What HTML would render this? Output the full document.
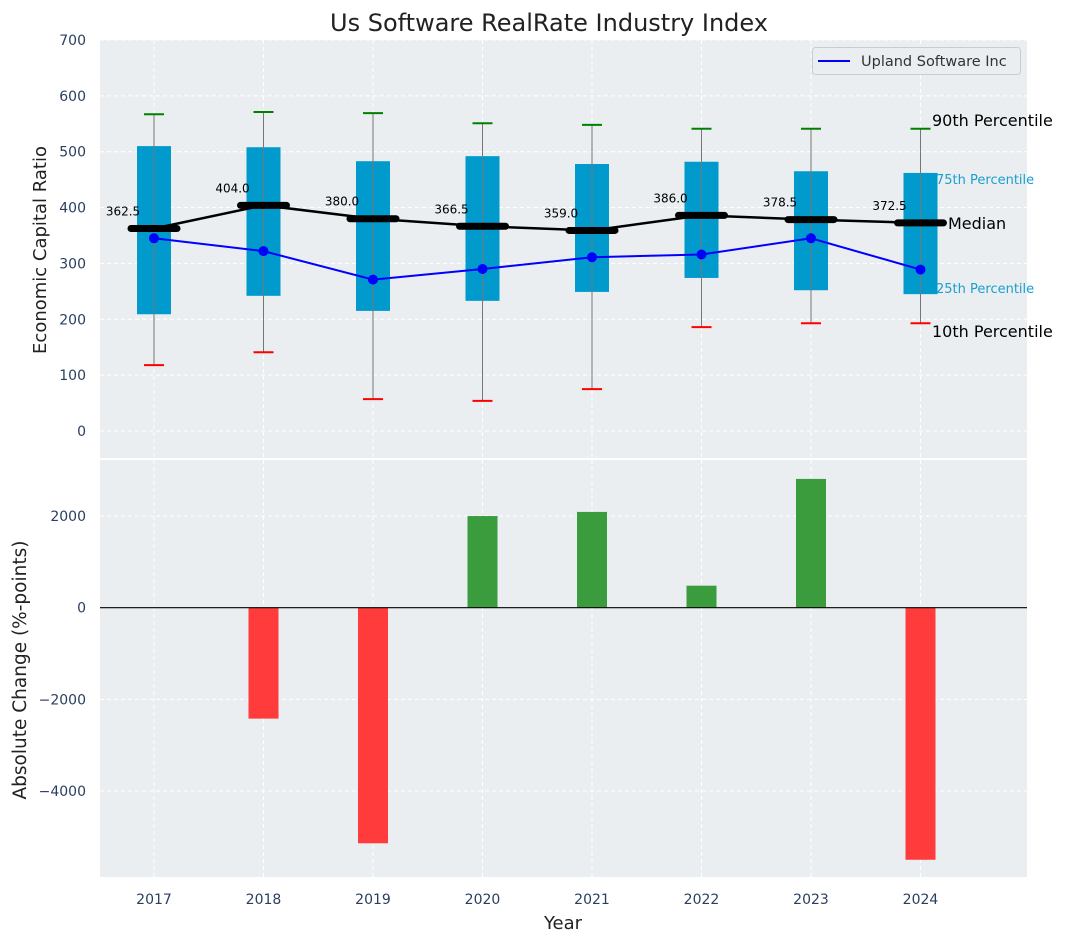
<!DOCTYPE html>
<html><head><meta charset="utf-8"><style>
html,body{margin:0;padding:0;background:#fff;}
svg{display:block;font-family:"DejaVu Sans","Liberation Sans",sans-serif;}
</style></head><body>
<svg id="chart" width="1067" height="942" viewBox="0 0 1067 942" xmlns="http://www.w3.org/2000/svg">
<text x="549" y="31" text-anchor="middle" font-size="24" fill="#222">Us Software RealRate Industry Index</text>
<g id="topg"></g><g id="botg"></g>
</svg>
<script>
const years=["2017","2018","2019","2020","2021","2022","2023","2024"];
const p10=[118,141,57,54,75,186,193,193];
const q1=[209,242,215,233,249,274,252,245];
const medians=[362.5,404.0,380.0,366.5,359.0,386.0,378.5,372.5];
const q3=[510,508,483,492,478,482,465,462];
const p90=[567,571,569,551,548,541,541,541];
const upland=[345,322,271,290,311,316,345,289];
const changes=[0,-2420,-5140,2000,2090,480,2810,-5500];
const topTicks=[0,100,200,300,400,500,600,700];
const botTicks=[-4000,-2000,0,2000];

const NS="http://www.w3.org/2000/svg";
const L=100,R=1027;
const x=i=>154+i*109.5;
const yT=v=>431-v*0.5586;
const yB=v=>607.7-v*0.04583;
function el(p,t,a){const e=document.createElementNS(NS,t);for(const k in a)e.setAttribute(k,a[k]);p.appendChild(e);return e;}
const gTop=document.getElementById('topg'),gBot=document.getElementById('botg');

let bg=el(gTop,'rect',{x:L,y:40,width:R-L,height:418,fill:'#eaeef0'});


let bg2=el(gBot,'rect',{x:L,y:460,width:R-L,height:417,fill:'#eaeef0'});



topTicks.forEach(t=>{
  el(gTop,'line',{x1:L,x2:R,y1:yT(t),y2:yT(t),stroke:'#fff','stroke-dasharray':'4,3','stroke-width':1});
  const tx=el(gTop,'text',{x:L-14,y:yT(t)+5,'text-anchor':'end','font-size':14,fill:'#2a3f5f'});
  tx.textContent=t;
  
  
});
botTicks.forEach(t=>{
  el(gBot,'line',{x1:L,x2:R,y1:yB(t),y2:yB(t),stroke:'#fff','stroke-dasharray':'4,3','stroke-width':1});
  const tx=el(gBot,'text',{x:L-14,y:yB(t)+5,'text-anchor':'end','font-size':14,fill:'#2a3f5f'});
  tx.textContent=t<0?'\u2212'+(-t):t;
  
  
});
years.forEach((yr,i)=>{
  el(gTop,'line',{x1:x(i),x2:x(i),y1:40,y2:458,stroke:'#fff','stroke-dasharray':'4,3'});
  el(gBot,'line',{x1:x(i),x2:x(i),y1:460,y2:877,stroke:'#fff','stroke-dasharray':'4,3'});
  const tx=el(gBot,'text',{x:x(i),y:904,'text-anchor':'middle','font-size':14,fill:'#2a3f5f'});
  tx.textContent=yr;
  
  
});

years.forEach((yr,i)=>{
  const g=el(gTop,'g',{});
  
  
  el(g,'rect',{x:x(i)-17,y:yT(q3[i]),width:34,height:yT(q1[i])-yT(q3[i]),fill:'#009acd'});
  el(g,'line',{x1:x(i),x2:x(i),y1:yT(p90[i]),y2:yT(p10[i]),stroke:'#777','stroke-width':1});
  el(g,'line',{x1:x(i)-10,x2:x(i)+10,y1:yT(p90[i]),y2:yT(p90[i]),stroke:'green','stroke-width':2});
  el(g,'line',{x1:x(i)-10,x2:x(i)+10,y1:yT(p10[i]),y2:yT(p10[i]),stroke:'red','stroke-width':2});
});
let mp=medians.map((m,i)=>x(i)+','+yT(m)).join(' ');
let ml=el(gTop,'polyline',{points:mp,fill:'none',stroke:'#000','stroke-width':2.5});


medians.forEach((m,i)=>{
  const s=el(gTop,'line',{x1:x(i)-23,x2:x(i)+23,y1:yT(m),y2:yT(m),stroke:'#000','stroke-width':7,'stroke-linecap':'round'});
  
  
  const t=el(gTop,'text',{x:x(i)-31,y:yT(m)-13,'text-anchor':'middle','font-size':12,fill:'#000'});
  t.textContent=m.toFixed(1);
  
  
});
let up=el(gTop,'polyline',{points:upland.map((v,i)=>x(i)+','+yT(v)).join(' '),fill:'none',stroke:'#0000ff','stroke-width':2});


upland.forEach((v,i)=>{
  const c=el(gTop,'circle',{cx:x(i),cy:yT(v),r:5,fill:'#0000ff'});
  
  
});
const n=years.length-1;
[[p90[n],'90th Percentile',16,'#000',932,-3],[q3[n],'75th Percentile',13,'#1a9fd0',936,11],[medians[n],'Median',16,'#000',948,6],[q1[n],'25th Percentile',13,'#1a9fd0',936,-1],[p10[n],'10th Percentile',16,'#000',932,14]].forEach(a=>{
  const t=el(gTop,'text',{x:a[4],y:yT(a[0])+a[5],'font-size':a[2],fill:a[3]});
  t.textContent=a[1];
  
  
});
const lg=el(gTop,'g',{});


el(lg,'rect',{x:812.5,y:47.5,width:208,height:27,rx:3,fill:'#eaeef0',stroke:'#ccc'});
el(lg,'line',{x1:818,x2:850,y1:61,y2:61,stroke:'#0000ff','stroke-width':2});
const lt=el(lg,'text',{x:861,y:66,'font-size':14.5,fill:'#333'});lt.textContent='Upland Software Inc';

changes.forEach((v,i)=>{
  if(v===0)return;
  const b=el(gBot,'rect',{x:x(i)-15,width:30,y:Math.min(yB(v),yB(0)),height:Math.abs(yB(v)-yB(0)),fill:v>0?'#3a9c3d':'#ff3b3b'});
  
  
});
el(gBot,'line',{x1:L,x2:R,y1:yB(0),y2:yB(0),stroke:'#000','stroke-width':1.2});

let a1=el(gTop,'text',{x:0,y:0,'font-size':18,fill:'#222','text-anchor':'middle',transform:'translate(46,250) rotate(-90)'});a1.textContent='Economic Capital Ratio';

let a2=el(gBot,'text',{x:0,y:0,'font-size':18.5,fill:'#222','text-anchor':'middle',transform:'translate(26,670) rotate(-90)'});a2.textContent='Absolute Change (%-points)';

let a3=el(gBot,'text',{x:563,y:929,'font-size':18,fill:'#222','text-anchor':'middle'});a3.textContent='Year';

</script>
</body></html>
